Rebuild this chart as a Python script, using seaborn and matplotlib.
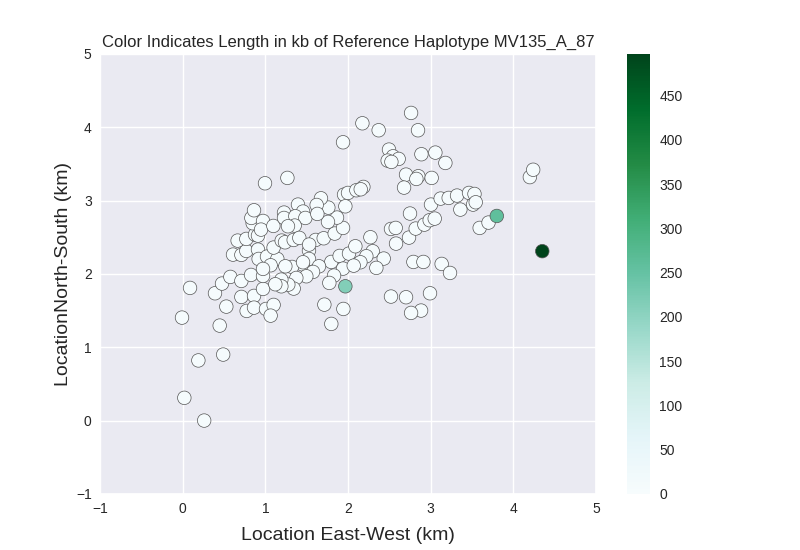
import matplotlib
matplotlib.use("Agg")
import matplotlib.pyplot as plt
import seaborn as sns
from matplotlib.colors import Normalize
from matplotlib.cm import ScalarMappable

east_west = [
    0.089,-0.008,0.448,0.528,0.391,0.476,0.577,0.71,0.71,0.863,0.972,0.827,0.972,0.774,0.863,1.008,1.10,1.064,
    0.609,0.71,0.77,0.911,0.919,1.02,1.145,1.064,0.972,1.10,0.665,0.77,0.875,0.911,0.847,0.831,0.863,0.972,0.948,1.097,
    1.226,1.226,1.395,1.456,1.363,1.484,1.355,1.274,1.198,1.238,1.343,1.411,1.609,1.706,1.839,1.94,1.867,1.758,1.762,1.673,1.621,1.629,
    1.528,1.528,1.53,1.45,1.323,1.242,1.456,1.798,1.899,2.012,1.94,1.831,1.774,1.649,1.577,1.496,1.375,1.343,1.278,1.194,1.194,1.121,
    1.714,1.798,1.944,1.952,2.0,1.968,
    2.763,2.174,2.371,2.847,1.94,2.496,2.888,3.057,3.178,2.545,2.613,2.48,2.525,2.702,2.851,2.827,3.012,2.678,1.267,0.996,
    2.186,2.101,2.154,2.271,2.299,2.222,2.15,2.069,2.432,2.343,2.089,2.52,2.702,2.992,2.884,2.763,2.791,2.912,3.133,3.234,
    2.581,2.738,2.819,2.924,2.988,3.049,2.52,2.577,2.75,3.004,3.121,3.218,3.319,3.464,3.53,3.513,3.545,3.359,3.593,3.7,
    4.2,4.24,0.02,0.19,0.26,0.49,1.968,3.8,4.35,
]
north_south = [
    1.809,1.404,1.295,1.554,1.736,1.868,1.959,1.904,1.686,1.70,1.795,1.986,1.972,1.495,1.54,1.522,1.577,1.431,
    2.263,2.259,2.313,2.331,2.204,2.236,2.204,2.118,2.068,2.359,2.454,2.477,2.536,2.522,2.691,2.763,2.868,2.722,2.604,2.654,
    2.836,2.763,2.945,2.85,2.786,2.763,2.659,2.65,2.454,2.431,2.463,2.491,2.463,2.486,2.55,2.627,2.768,2.709,2.904,3.031,2.94,2.818,
    2.318,2.204,2.40,2.13,2.095,2.104,2.159,2.163,2.245,2.277,2.072,1.977,1.877,2.104,2.027,1.968,1.945,1.80,1.854,1.922,1.831,1.859,
    1.581,1.318,1.522,3.081,3.104,2.922,
    4.195,4.054,3.959,3.959,3.795,3.695,3.632,3.654,3.513,3.604,3.568,3.545,3.527,3.354,3.332,3.295,3.309,3.177,3.309,3.236,
    3.186,3.141,3.154,2.5,2.309,2.241,2.159,2.113,2.209,2.082,2.377,1.691,1.682,1.736,1.5,1.468,2.163,2.163,2.136,2.013,
    2.413,2.495,2.618,2.672,2.732,2.754,2.613,2.627,2.823,2.945,3.027,3.036,3.068,3.104,3.09,2.945,2.977,2.877,2.627,2.70,
    3.32,3.42,0.31,0.82,0.0,0.90,1.831,2.79,2.31,
]
# Nearly all haplotype lengths are tiny; three stand out
length_kb = [6] * (len(east_west) - 3) + [215, 260, 497]

x_ticks = [-1, 0, 1, 2, 3, 4, 5]
y_ticks = [-1, 0, 1, 2, 3, 4, 5]
bar_ticks = [0, 50, 100, 150, 200, 250, 300, 350, 400, 450]

sns.set_theme(style="darkgrid", font="Liberation Sans")
plt.rcParams["font.family"] = ["Liberation Sans", "DejaVu Sans"]

fig = plt.figure(figsize=(8, 5.5), dpi=100)
ax = fig.add_axes([0.125, 0.102, 0.62, 0.8])
norm = Normalize(vmin=0, vmax=497)
sns.scatterplot(x=east_west, y=north_south, hue=length_kb, hue_norm=norm, palette="BuGn",
                s=95, edgecolor="#555555", linewidth=0.5, legend=False, ax=ax)
ax.set_xlim(-1, 5)
ax.set_ylim(-1, 5)
ax.set_xticks(x_ticks)
ax.set_yticks(y_ticks)
ax.tick_params(labelsize=10, length=0, colors="#262626", pad=6)
ax.set_xlabel("Location East-West (km)", fontsize=14, color="#262626", labelpad=8)
ax.set_ylabel("LocationNorth-South (km)", fontsize=14, color="#262626", labelpad=3)
ax.set_title("Color Indicates Length in kb of Reference Haplotype MV135_A_87",
             fontsize=12, color="#262626", pad=5)

cax = fig.add_axes([0.784, 0.102, 0.028, 0.8])
cb = fig.colorbar(ScalarMappable(norm=norm, cmap="BuGn"), cax=cax)
cb.set_ticks(bar_ticks)
cb.ax.tick_params(labelsize=10, length=0, colors="#262626", pad=7)
cb.outline.set_visible(False)
fig.savefig("out.png", dpi=100)
